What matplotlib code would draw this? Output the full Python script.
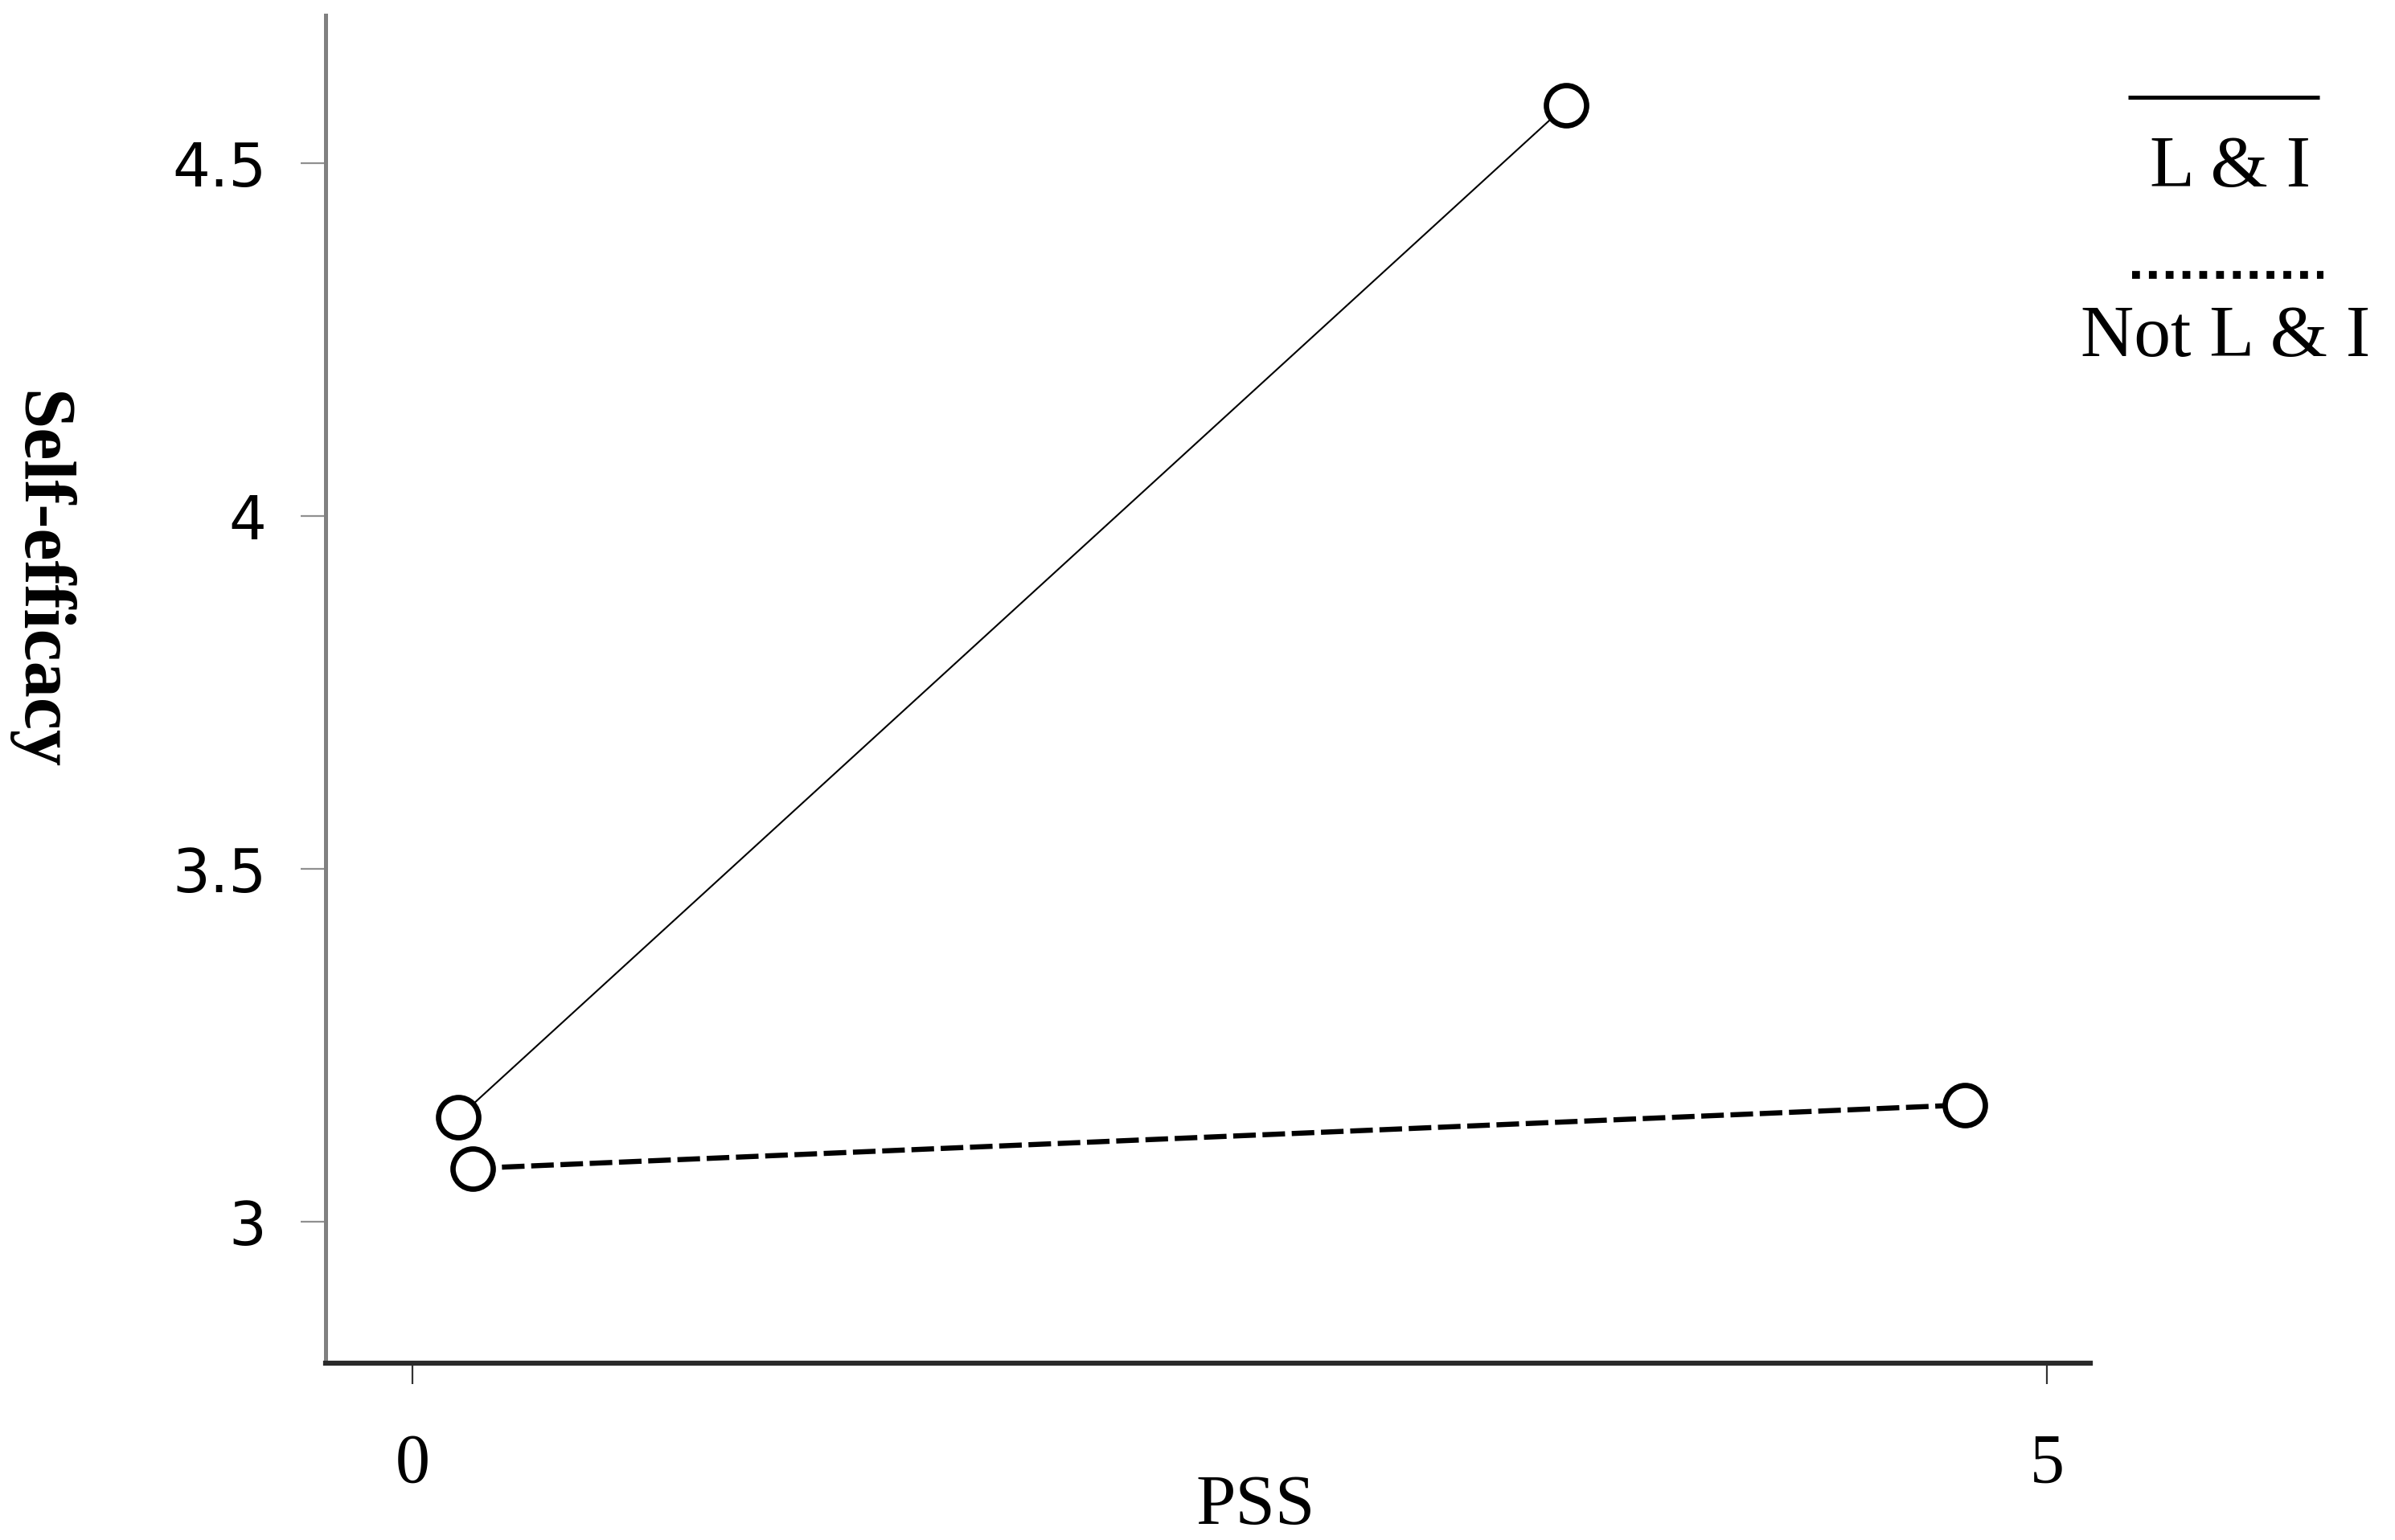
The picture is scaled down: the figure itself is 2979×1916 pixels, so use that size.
import matplotlib
matplotlib.use("Agg")
import matplotlib.pyplot as plt
from matplotlib.lines import Line2D

# ---- data ----
series_names = ["L & I", "Not L & I"]
li_x = [0.14, 3.53]
li_y = [3.148, 4.583]
not_li_x = [0.184, 4.75]
not_li_y = [3.076, 3.166]
x_ticks = [0, 5]
x_tick_labels = ["0", "5"]
y_ticks = [3, 3.5, 4, 4.5]
y_tick_labels = ["3", "3.5", "4", "4.5"]
x_label = "PSS"
y_label = "Self-efficacy"

W, H = 2979, 1916
fig = plt.figure(figsize=(W / 100, H / 100), dpi=100)
fig.patch.set_facecolor("white")

# axes box in pixels
left_px, right_px, top_px, bottom_px = 405, 2600, 19, 1696
ax = fig.add_axes([left_px / W, 1 - bottom_px / H,
                   (right_px - left_px) / W, (bottom_px - top_px) / H])
ax.set_xlim(-0.266, 5.133)
ax.set_ylim(2.80, 4.71)

serif = "Liberation Serif"

ax.plot(li_x, li_y, color="black", lw=1.5, linestyle="-",
        marker="o", markersize=36, markerfacecolor="white",
        markeredgecolor="black", markeredgewidth=4.8, zorder=3, clip_on=False)
ax.plot(not_li_x, not_li_y, color="black", lw=4.6, linestyle=(0, (4.4, 1.3)),
        marker="o", markersize=36, markerfacecolor="white",
        markeredgecolor="black", markeredgewidth=4.8, zorder=3, clip_on=False)

for s in ["top", "right"]:
    ax.spines[s].set_visible(False)
ax.spines["left"].set_color("#808080")
ax.spines["left"].set_linewidth(3.6)
ax.spines["bottom"].set_color("#2a2a2a")
ax.spines["bottom"].set_linewidth(4.5)

ax.set_xticks(x_ticks)
ax.set_xticklabels(x_tick_labels, fontfamily=serif, fontsize=62)
ax.set_yticks(y_ticks)
ax.set_yticklabels(y_tick_labels, fontfamily="DejaVu Sans", fontsize=53)
ax.tick_params(axis="x", direction="out", length=19, width=1.6,
               color="#333333", pad=44)
ax.tick_params(axis="y", direction="out", length=22, width=1.6,
               color="#909090", pad=31)

# axis labels as figure text
fig.text(1562 / W, 1 - 1896 / H, x_label, fontfamily=serif, fontsize=64,
         ha="center", va="baseline")
fig.text(49 / W, 1 - 722 / H, y_label, fontfamily=serif, fontsize=65,
         fontweight="bold", rotation=270, ha="center", va="center")

# legend drawn manually
def fx(px):
    return px / W

def fy(py):
    return 1 - py / H

fig.add_artist(Line2D([fx(2647), fx(2885)], [fy(121), fy(121)],
                      color="black", lw=3.6, solid_capstyle="butt"))
fig.text(fx(2774), fy(232), series_names[0], fontfamily=serif, fontsize=66,
         ha="center", va="baseline")
fig.add_artist(Line2D([fx(2652), fx(2890)], [fy(342), fy(342)],
                      color="black", lw=7, linestyle=(0, (1, 1.15)),
                      dash_capstyle="butt"))
fig.text(fx(2768), fy(443), series_names[1], fontfamily=serif, fontsize=66,
         ha="center", va="baseline")

fig.savefig("out.png", dpi=100, facecolor="white")
